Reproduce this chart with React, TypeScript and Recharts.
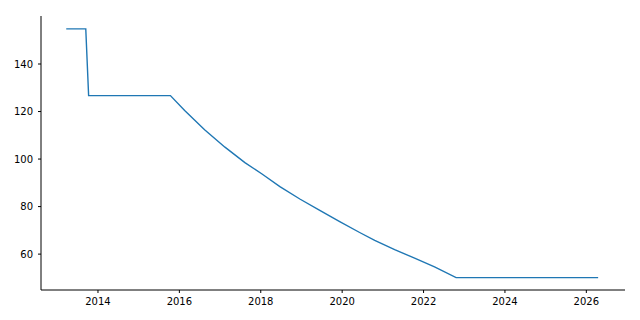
import { LineChart, Line, XAxis, YAxis } from 'recharts';

// dates as fractional years
const years = [
  2013.22, 2013.7, 2013.77, 2015.78, 2016.13, 2016.62, 2017.12, 2017.61, 2018.04,
  2018.47, 2018.96, 2019.45, 2019.94, 2020.43, 2020.8, 2021.29, 2021.78, 2022.27,
  2022.8, 2026.29,
];
const values = [
  154.8, 154.8, 126.7, 126.7, 120.4, 112.3, 105.0, 98.5, 93.6,
  88.4, 83.2, 78.4, 73.7, 69.1, 65.8, 61.9, 58.3, 54.6,
  50.1, 50.1,
];
const xTicks = [2014, 2016, 2018, 2020, 2022, 2024, 2026];
const yTicks = [60, 80, 100, 120, 140];

const data = years.map((year, i) => ({ year, value: values[i] }));

const tickStyle = { fontSize: 10, fill: '#000', fontFamily: 'DejaVu Sans' };

export default function App() {
  return (
    <div style={{ position: 'absolute', top: 0, left: 0, background: '#fff' }}>
      <LineChart
        width={640}
        height={320}
        data={data}
        margin={{ top: 16, right: 15, bottom: 0, left: 0 }}
      >
        <XAxis
          dataKey="year"
          type="number"
          domain={[2012.6, 2026.95]}
          ticks={xTicks}
          allowDataOverflow
          height={30}
          tickSize={3}
          tickMargin={5}
          tick={tickStyle}
          stroke="#000"
          axisLine={{ stroke: '#000', strokeWidth: 1 }}
          tickLine={{ stroke: '#000' }}
        />
        <YAxis
          type="number"
          domain={[44.9, 160.2]}
          ticks={yTicks}
          allowDataOverflow
          width={41}
          tickSize={3}
          tickMargin={5}
          tick={tickStyle}
          stroke="#000"
          axisLine={{ stroke: '#000', strokeWidth: 1 }}
          tickLine={{ stroke: '#000' }}
        />
        <Line
          type="linear"
          dataKey="value"
          stroke="#1f77b4"
          strokeWidth={1.4}
          dot={false}
          isAnimationActive={false}
        />
      </LineChart>
    </div>
  );
}
